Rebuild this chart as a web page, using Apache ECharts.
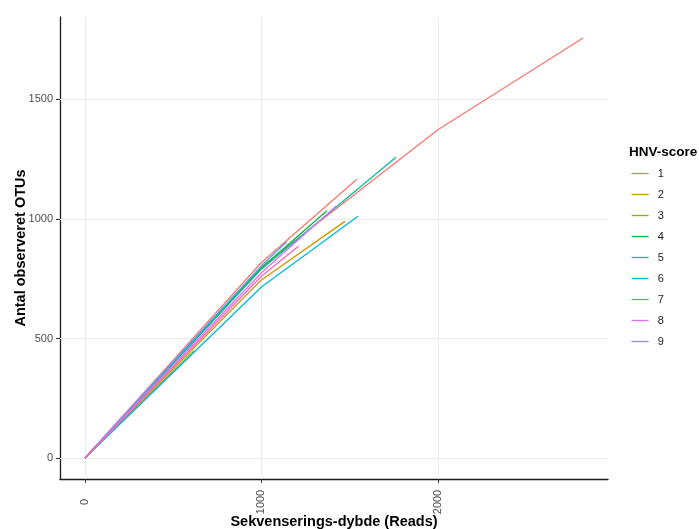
<!DOCTYPE html>
<html>
<head>
<meta charset="utf-8">
<script src="https://cdn.jsdelivr.net/npm/echarts@6/dist/echarts.min.js"></script>
<style>
  html, body { margin: 0; padding: 0; background: #fff; }
  #chart { width: 699px; height: 529px; }
</style>
</head>
<body>
<div id="chart"></div>
<script>
// HNV-score groups shown in the legend
const hnvScores = ['1', '2', '3', '4', '5', '6', '7', '8', '9'];

// One rarefaction curve per sample: its HNV-score, sequencing depths and observed OTUs
const sampleScore = ['1', '1', '2', '3', '4', '5', '6', '7', '8', '9'];
const sampleDepth = [
  [0, 1000, 2000, 2822],
  [0, 1000, 1541],
  [0, 1000, 1473],
  [0, 620],
  [0, 1000, 1371],
  [0, 1000, 1762],
  [0, 1000, 1547],
  [0, 1000, 1144],
  [0, 1000, 1422],
  [0, 1000, 1210]
];
const sampleOtus = [
  [0, 800, 1373, 1757],
  [0, 818, 1166],
  [0, 745, 990],
  [0, 450],
  [0, 795, 1034],
  [0, 790, 1258],
  [0, 715, 1011],
  [0, 805, 905],
  [0, 775, 1053],
  [0, 760, 886]
];

// Axis tick values
const xTicks = [0, 1000, 2000];
const yTicks = [0, 500, 1000, 1500];

// ggplot2 default hue palette for nine groups
const palette = ['#F8766D', '#D39200', '#93AA00', '#00BA38', '#00C19F',
                 '#00B9E3', '#619CFF', '#DB72FB', '#FF61C3'];

const font = '"Liberation Sans", Arial, Helvetica, sans-serif';
const gridColor = '#EBEBEB';

// Panel extent with ggplot-style 5% expansion around the data
const allX = sampleDepth.flat();
const allY = sampleOtus.flat();
const xMaxData = Math.max(...allX), yMaxData = Math.max(...allY);
const xPad = xMaxData * 0.05, yPad = yMaxData * 0.05;

const colorOf = score => palette[hnvScores.indexOf(score)];

const curveSeries = sampleScore.map((score, i) => ({
  name: score,
  type: 'line',
  data: sampleDepth[i].map((d, j) => [d, sampleOtus[i][j]]),
  showSymbol: false,
  symbol: 'none',
  silent: true,
  z: 10,
  color: colorOf(score),
  lineStyle: { width: 1.3, color: colorOf(score) },
  itemStyle: { color: colorOf(score) }
}));

// Major grid lines, drawn through the axis scales
const gridSeries = {
  name: 'grid',
  type: 'line',
  data: [],
  silent: true,
  z: 1,
  markLine: {
    silent: true,
    z: 1,
    symbol: ['none', 'none'],
    label: { show: false },
    animation: false,
    lineStyle: { color: gridColor, width: 1, type: 'solid' },
    data: xTicks.map(v => ({ xAxis: v })).concat(yTicks.map(v => ({ yAxis: v })))
  }
};

const chart = echarts.init(document.getElementById('chart'), null, { renderer: 'canvas' });
chart.setOption({
  animation: false,
  backgroundColor: '#ffffff',
  title: {
    text: 'HNV-score',
    left: 624,
    top: 140,
    textStyle: { fontFamily: font, fontSize: 13.5, fontWeight: 'bold', color: '#000' }
  },
  legend: {
    orient: 'vertical',
    left: 631,
    top: 168,
    padding: 0,
    itemWidth: 17,
    itemHeight: 11,
    itemGap: 10,
    itemStyle: { opacity: 0 },
    data: hnvScores.map(s => ({
      name: s,
      itemStyle: { color: colorOf(s), opacity: 0, borderWidth: 0 },
      lineStyle: { color: colorOf(s), width: 1.3 }
    })),
    textStyle: { fontFamily: font, fontSize: 11, color: '#1a1a1a', padding: [0, 0, 0, 4] },
    selectedMode: false
  },
  grid: { left: 60, right: 91, top: 17, bottom: 50, containLabel: false, outerBoundsMode: 'none' },
  xAxis: {
    type: 'value',
    min: -xPad,
    max: xMaxData + xPad,
    name: 'Sekvenserings-dybde (Reads)',
    nameLocation: 'middle',
    nameGap: 35,
    nameMoveOverlap: false,
    nameTextStyle: { fontFamily: font, fontSize: 14.5, fontWeight: 'bold', color: '#000' },
    axisLine: { show: true, onZero: false, lineStyle: { color: '#1a1a1a', width: 1.3 } },
    axisTick: { show: true, customValues: xTicks, length: 4, lineStyle: { color: '#333', width: 1 } },
    axisLabel: {
      customValues: xTicks,
      formatter: v => String(v),
      rotate: 90,
      align: 'center',
      verticalAlign: 'middle',
      margin: 23,
      fontFamily: font,
      fontSize: 11,
      color: '#4D4D4D'
    },
    splitLine: { show: false }
  },
  yAxis: {
    type: 'value',
    min: -yPad,
    max: yMaxData + yPad,
    name: 'Antal observeret OTUs',
    nameLocation: 'middle',
    nameGap: 32,
    nameMoveOverlap: false,
    nameTextStyle: { fontFamily: font, fontSize: 14.5, fontWeight: 'bold', color: '#000' },
    axisLine: { show: true, onZero: false, lineStyle: { color: '#1a1a1a', width: 1.3 } },
    axisTick: { show: true, customValues: yTicks, length: 4, lineStyle: { color: '#333', width: 1 } },
    axisLabel: {
      customValues: yTicks,
      formatter: v => String(v),
      margin: 7,
      fontFamily: font,
      fontSize: 11,
      color: '#4D4D4D'
    },
    splitLine: { show: false }
  },
  series: [gridSeries].concat(curveSeries)
});
</script>
</body>
</html>
